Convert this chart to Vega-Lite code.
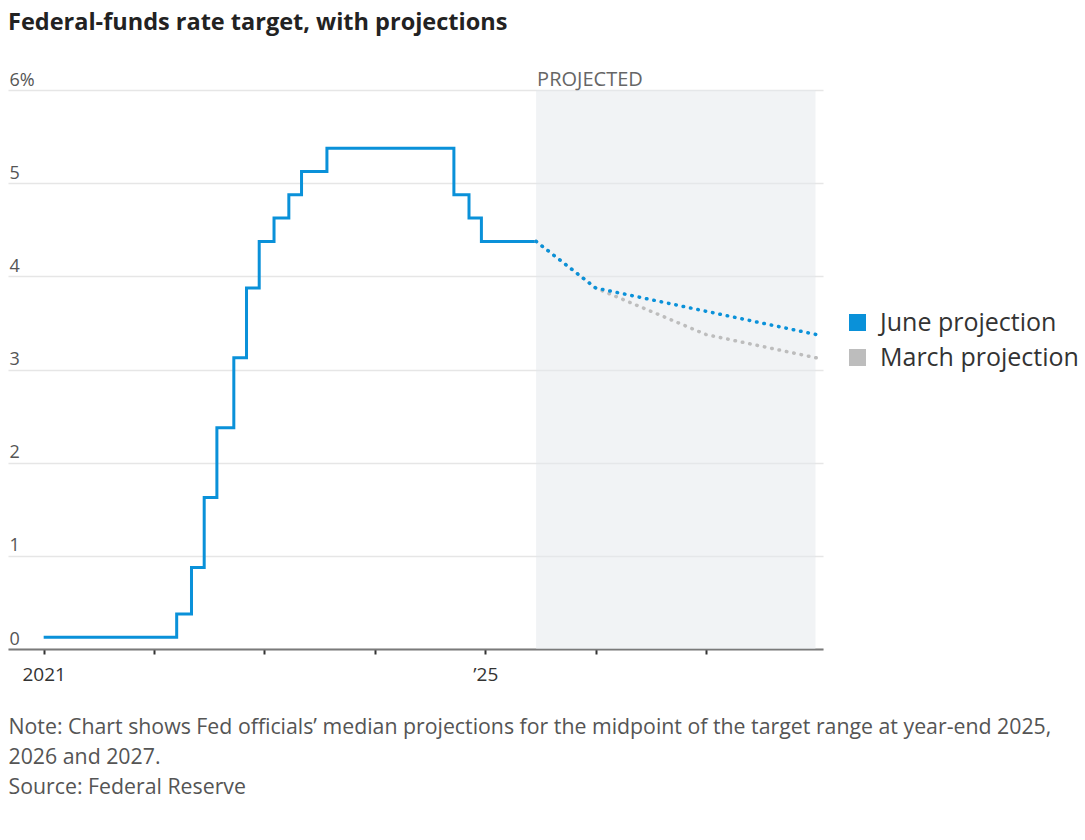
{
  "$schema": "https://vega.github.io/schema/vega-lite/v6.json",
  "width": 815,
  "height": 559,
  "padding": {"left": 8, "top": 10, "right": 10, "bottom": 10},
  "background": "white",
  "title": {
    "text": "Federal-funds rate target, with projections",
    "anchor": "start",
    "font": "Open Sans",
    "fontSize": 23.5,
    "fontWeight": "bold",
    "color": "#222222",
    "offset": 36
  },
  "config": {"view": {"stroke": null}, "font": "Open Sans"},
  "datasets": {
    "band": [{"label": "PROJECTED", "start": "2025-06-18", "end": "2027-12-29"}],
    "history": [
      {"date": "2021-01-01", "rate": 0.125},
      {"date": "2022-03-17", "rate": 0.375},
      {"date": "2022-05-05", "rate": 0.875},
      {"date": "2022-06-16", "rate": 1.625},
      {"date": "2022-07-28", "rate": 2.375},
      {"date": "2022-09-22", "rate": 3.125},
      {"date": "2022-11-03", "rate": 3.875},
      {"date": "2022-12-15", "rate": 4.375},
      {"date": "2023-02-02", "rate": 4.625},
      {"date": "2023-03-23", "rate": 4.875},
      {"date": "2023-05-04", "rate": 5.125},
      {"date": "2023-07-27", "rate": 5.375},
      {"date": "2024-09-19", "rate": 4.875},
      {"date": "2024-11-08", "rate": 4.625},
      {"date": "2024-12-19", "rate": 4.375},
      {"date": "2025-06-18", "rate": 4.375}
    ],
    "projections": [
      {"series": "March projection", "date": "2025-06-18", "rate": 4.375},
      {"series": "March projection", "date": "2026-01-01", "rate": 3.875},
      {"series": "March projection", "date": "2027-01-01", "rate": 3.375},
      {"series": "March projection", "date": "2028-01-01", "rate": 3.125},
      {"series": "June projection", "date": "2025-06-18", "rate": 4.375},
      {"series": "June projection", "date": "2026-01-01", "rate": 3.875},
      {"series": "June projection", "date": "2027-01-01", "rate": 3.625},
      {"series": "June projection", "date": "2028-01-01", "rate": 3.375}
    ]
  },
  "layer": [
    {
      "data": {"name": "band"},
      "mark": {"type": "rect", "color": "#e4e7eb", "opacity": 0.5},
      "encoding": {
        "x": {
          "field": "start",
          "type": "temporal",
          "scale": {
            "type": "utc",
            "domain": [
              {"year": 2020, "month": 9, "date": 5, "utc": true},
              {"year": 2028, "month": 1, "date": 23, "utc": true}
            ]
          },
          "axis": {
            "values": [
              {"year": 2021, "month": 1, "date": 1, "utc": true},
              {"year": 2022, "month": 1, "date": 1, "utc": true},
              {"year": 2023, "month": 1, "date": 1, "utc": true},
              {"year": 2024, "month": 1, "date": 1, "utc": true},
              {"year": 2025, "month": 1, "date": 1, "utc": true},
              {"year": 2026, "month": 1, "date": 1, "utc": true},
              {"year": 2027, "month": 1, "date": 1, "utc": true}
            ],
            "labelExpr": "utcFormat(datum.value, '%Y') == '2021' ? '2021' : (utcFormat(datum.value, '%Y') == '2025' ? '’25' : '')",
            "grid": false,
            "domainColor": "#7a7a7a",
            "domainWidth": 2,
            "tickColor": "#333333",
            "tickSize": 5,
            "tickWidth": 2,
            "labelFont": "Open Sans",
            "labelFontSize": 19,
            "labelColor": "#333333",
            "labelPadding": 11,
            "labelFlush": false,
            "labelOverlap": false,
            "title": [
              "Note: Chart shows Fed officials’ median projections for the midpoint of the target range at year-end 2025,",
              "2026 and 2027.",
              "Source: Federal Reserve"
            ],
            "titleFont": "Open Sans",
            "titleFontSize": 21.3,
            "titleFontWeight": "normal",
            "titleColor": "#555555",
            "titleAlign": "left",
            "titleAnchor": "start",
            "titleBaseline": "alphabetic",
            "titleX": 0,
            "titleY": 84,
            "titleLineHeight": 30
          }
        },
        "x2": {"field": "end"},
        "y": {
          "datum": 0,
          "type": "quantitative",
          "scale": {"domain": [0, 6], "nice": false, "zero": true},
          "axis": {
            "values": [0, 1, 2, 3, 4, 5, 6],
            "labelExpr": "datum.value == 6 ? '6%' : format(datum.value, 'd')",
            "grid": true,
            "domain": false,
            "ticks": false,
            "tickSize": 0,
            "labelAlign": "left",
            "labelPadding": -1,
            "labelBaseline": "alphabetic",
            "labelOffset": -5,
            "labelFont": "Open Sans",
            "labelFontSize": 18,
            "labelColor": "#555555",
            "gridColor": "#e6e6e6",
            "gridWidth": 1.5,
            "title": null
          }
        },
        "y2": {"datum": 6}
      }
    },
    {
      "data": {"name": "band"},
      "mark": {"type": "text", "align": "left", "baseline": "alphabetic", "dy": -4, "dx": 1, "font": "Open Sans", "fontSize": 20, "color": "#666666"},
      "encoding": {
        "x": {"field": "start", "type": "temporal"},
        "y": {"datum": 6, "type": "quantitative"},
        "text": {"field": "label"}
      }
    },
    {
      "data": {"name": "history"},
      "mark": {"type": "line", "interpolate": "step-after", "color": "#0a91d9", "strokeWidth": 3},
      "encoding": {
        "x": {"field": "date", "type": "temporal"},
        "y": {"field": "rate", "type": "quantitative"}
      }
    },
    {
      "data": {"name": "projections"},
      "mark": {"type": "line", "strokeDash": [0.5, 7], "strokeCap": "round", "strokeWidth": 3.5},
      "encoding": {
        "x": {"field": "date", "type": "temporal"},
        "y": {"field": "rate", "type": "quantitative"},
        "color": {
          "field": "series",
          "type": "nominal",
          "scale": {"domain": ["June projection", "March projection"], "range": ["#0a91d9", "#bdbdbd"]},
          "legend": {
            "orient": "none",
            "legendX": 837,
            "legendY": 220,
            "title": null,
            "padding": 0,
            "symbolType": "square",
            "symbolSize": 289,
            "symbolStrokeWidth": 0,
            "labelFont": "Open Sans",
            "labelFontSize": 25,
            "labelColor": "#333333",
            "labelOffset": 10,
            "rowPadding": 9,
            "labelLimit": 400,
            "encode": {
              "symbols": {
                "update": {
                  "fill": {"scale": "color", "field": "value"},
                  "stroke": {"value": "transparent"},
                  "opacity": {"value": 1}
                }
              }
            }
          }
        },
        "order": {"field": "series", "sort": "descending"}
      }
    }
  ]
}
